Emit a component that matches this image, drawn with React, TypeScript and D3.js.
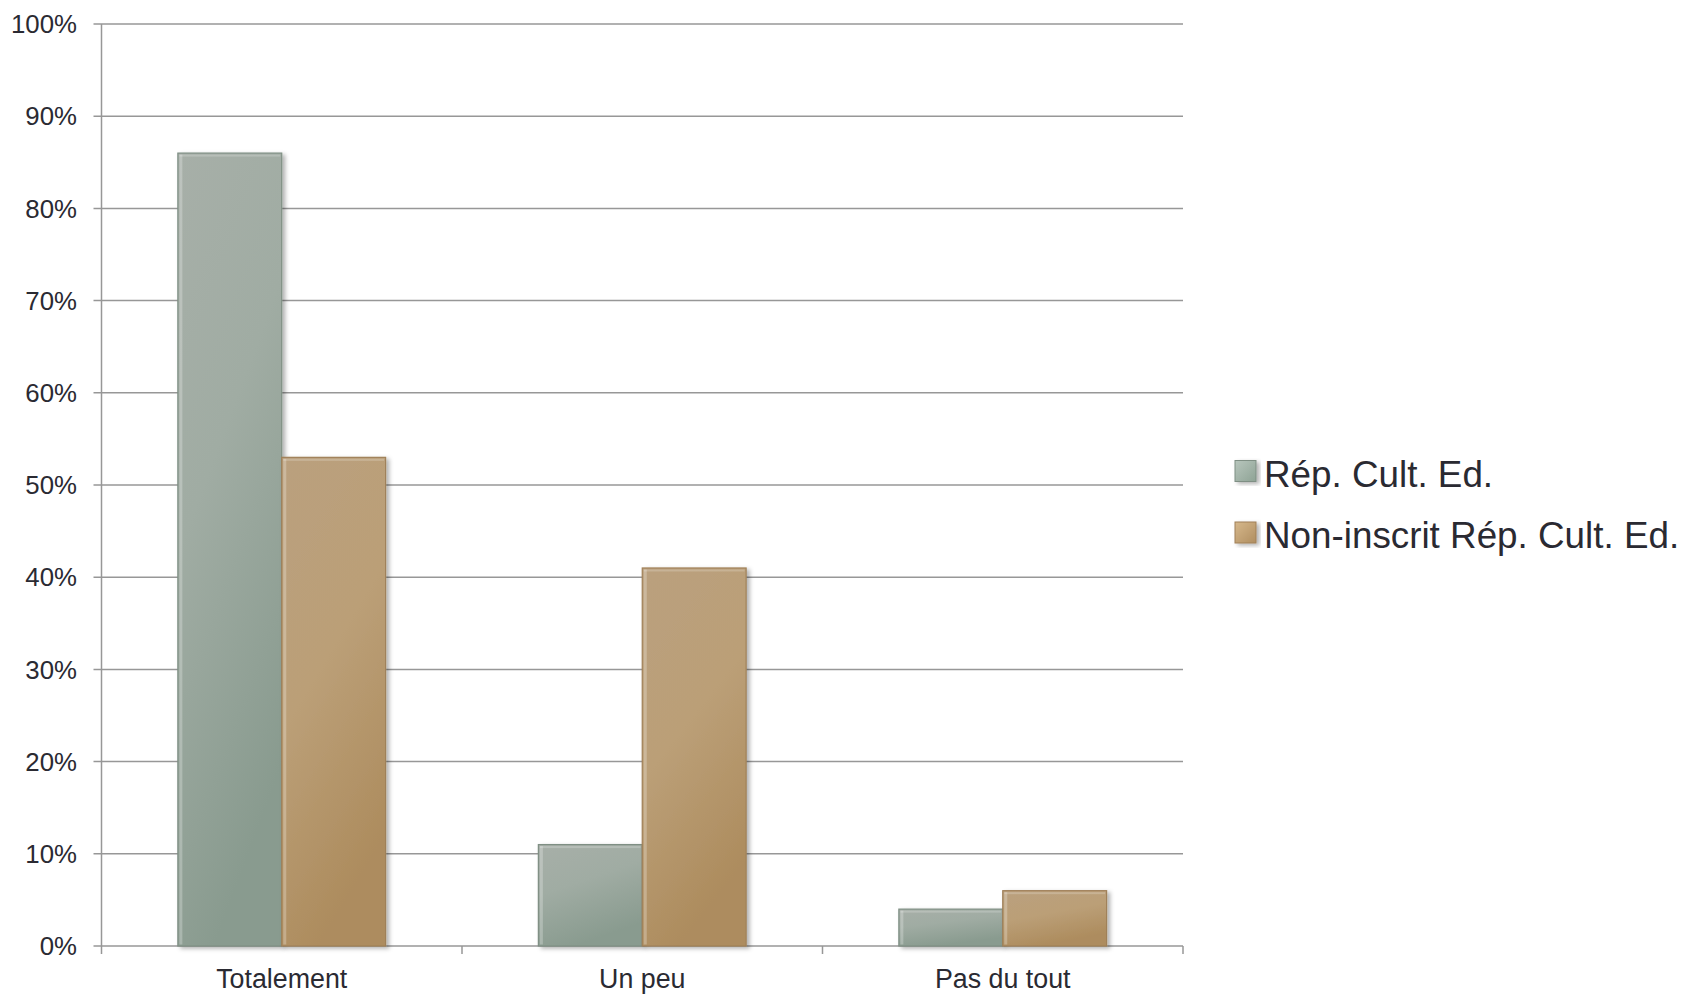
import React from "react";
import * as d3 from "d3";

const categories = ["Totalement", "Un peu", "Pas du tout"];
const seriesNames = ["Rép. Cult. Ed.", "Non-inscrit Rép. Cult. Ed."];
const repCultEd = [0.86, 0.11, 0.04];
const nonInscrit = [0.53, 0.41, 0.06];
const yTicks = [0, 0.1, 0.2, 0.3, 0.4, 0.5, 0.6, 0.7, 0.8, 0.9, 1.0];

const W = 1688;
const H = 995;
const left = 101.5;
const right = 1183;
const top = 24;
const bottom = 946;

const FONT = "'Liberation Sans', Arial, Helvetica, sans-serif";
const TEXT = "#2a2a32";
const GRID = "#979797";

export default function App() {
  const y = d3.scaleLinear().domain([0, 1]).range([bottom, top]);
  const x0 = d3.scaleBand<string>().domain(categories).range([left, right]).paddingInner(0).paddingOuter(0);
  const barW = x0.bandwidth() / 3.47;
  const series = [repCultEd, nonInscrit];
  const gradIds = ["gGreen", "gTan"];
  const strokes = ["#7f8f84", "#a08058"];

  const fmt = d3.format(".0%");

  return (
    <svg
      width={W}
      height={H}
      style={{ position: "absolute", left: 0, top: 0, background: "#fff" }}
      fontFamily={FONT}
    >
      <defs>
        <linearGradient id="gGreen" x1="0" y1="0" x2="0.35" y2="1">
          <stop offset="0" stopColor="#a7afa8" />
          <stop offset="0.45" stopColor="#a0aca3" />
          <stop offset="1" stopColor="#899b8f" />
        </linearGradient>
        <linearGradient id="gTan" x1="0" y1="0" x2="0.35" y2="1">
          <stop offset="0" stopColor="#baa07e" />
          <stop offset="0.5" stopColor="#bb9f77" />
          <stop offset="1" stopColor="#ad8c5e" />
        </linearGradient>
        <linearGradient id="lgGreen" x1="0" y1="0" x2="1" y2="1">
          <stop offset="0" stopColor="#b8c6bd" />
          <stop offset="1" stopColor="#8ea395" />
        </linearGradient>
        <linearGradient id="lgTan" x1="0" y1="0" x2="1" y2="1">
          <stop offset="0" stopColor="#d6b88c" />
          <stop offset="1" stopColor="#b08e60" />
        </linearGradient>
        <filter id="shadow" x="-10%" y="-10%" width="130%" height="130%">
          <feDropShadow dx="3" dy="2" stdDeviation="2" floodColor="#000" floodOpacity="0.3" />
        </filter>
      </defs>

      {/* gridlines */}
      {yTicks.map((t) => (
        <g key={t}>
          <line x1={left - 8} x2={right} y1={y(t)} y2={y(t)} stroke={GRID} strokeWidth={1.5} />
          <text
            x={77}
            y={y(t)}
            dy="0.36em"
            textAnchor="end"
            fontSize={25.8}
            fill={TEXT}
          >
            {fmt(t)}
          </text>
        </g>
      ))}

      {/* y axis line */}
      <line x1={left} x2={left} y1={top} y2={bottom + 8} stroke={GRID} strokeWidth={1.5} />
      {/* x tick marks */}
      {categories.map((c) => (
        <line
          key={c}
          x1={(x0(c) as number) + x0.bandwidth()}
          x2={(x0(c) as number) + x0.bandwidth()}
          y1={bottom}
          y2={bottom + 8}
          stroke={GRID}
          strokeWidth={1.5}
        />
      ))}

      {/* bars */}
      {categories.map((c, i) => {
        const cx = (x0(c) as number) + x0.bandwidth() / 2;
        return (
          <g key={c}>
            {series.map((s, si) => {
              const bx = cx - barW + si * barW;
              const by = y(s[i]);
              const bh = bottom - by;
              return (
                <g key={si} filter="url(#shadow)">
                  <rect
                    x={bx}
                    y={by}
                    width={barW}
                    height={bh}
                    fill={`url(#${gradIds[si]})`}
                    stroke={strokes[si]}
                    strokeWidth={1.2}
                  />
                  <rect
                    x={bx + 1.5}
                    y={by + 1.5}
                    width={3}
                    height={Math.max(0, bh - 3)}
                    fill="#ffffff"
                    opacity={0.25}
                  />
                  <rect
                    x={bx + 1.5}
                    y={by + 1.5}
                    width={barW - 3}
                    height={2}
                    fill="#ffffff"
                    opacity={0.2}
                  />
                </g>
              );
            })}
            <text
              x={cx}
              y={988}
              textAnchor="middle"
              fontSize={26.8}
              fill={TEXT}
            >
              {c}
            </text>
          </g>
        );
      })}

      {/* legend */}
      {seriesNames.map((n, i) => {
        const ly = 486.5 + i * 61.5;
        return (
          <g key={n}>
            <rect
              x={1235}
              y={ly - 26}
              width={21}
              height={21}
              fill={`url(#${i === 0 ? "lgGreen" : "lgTan"})`}
              stroke={strokes[i]}
              strokeWidth={1}
              filter="url(#shadow)"
            />
            <text x={1264} y={ly} fontSize={36.8} fill={TEXT}>
              {n}
            </text>
          </g>
        );
      })}
    </svg>
  );
}
